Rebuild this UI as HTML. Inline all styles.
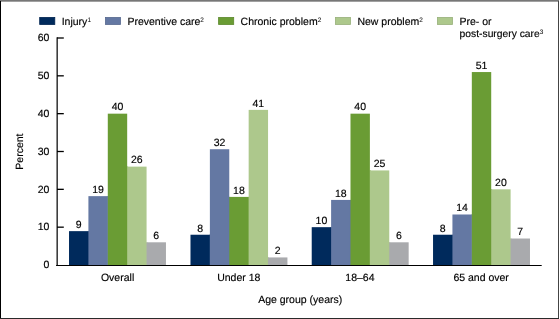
<!DOCTYPE html>
<html><head><meta charset="utf-8"><style>
html,body{margin:0;padding:0;background:#fff;}
body{width:560px;height:319px;overflow:hidden;position:relative;}
svg{position:absolute;left:0;top:0;will-change:transform;}
text{font-family:"Liberation Sans",sans-serif;font-size:10.5px;fill:#000;stroke:#000;stroke-width:0.15px;text-rendering:geometricPrecision;}
</style></head><body>
<svg width="560" height="319" viewBox="0 0 560 319">
<rect x="0" y="0" width="560" height="319" fill="#fff"/>
<rect x="69.02" y="231.14" width="19.39" height="33.86" fill="#002A5C"/>
<rect x="87.91" y="231.14" width="1.40" height="33.86" fill="#002A5C"/>
<text x="78.71" y="227.94" text-anchor="middle" >9</text>
<rect x="88.41" y="196.14" width="19.39" height="68.86" fill="#6478A3"/>
<rect x="107.29" y="196.14" width="1.40" height="68.86" fill="#6478A3"/>
<text x="98.10" y="192.94" text-anchor="middle" >19</text>
<rect x="107.79" y="113.67" width="19.39" height="151.33" fill="#6A9C34"/>
<rect x="126.68" y="166.63" width="1.40" height="98.37" fill="#6A9C34"/>
<text x="117.49" y="110.47" text-anchor="middle" >40</text>
<rect x="127.18" y="166.63" width="19.39" height="98.37" fill="#ADC88C"/>
<rect x="146.07" y="242.30" width="1.40" height="22.70" fill="#ADC88C"/>
<text x="136.88" y="163.43" text-anchor="middle" >26</text>
<rect x="146.57" y="242.30" width="19.39" height="22.70" fill="#A9AAAD"/>
<text x="156.26" y="239.10" text-anchor="middle" >6</text>
<text x="117.59" y="280.60" text-anchor="middle" >Overall</text>
<rect x="190.49" y="234.73" width="19.39" height="30.27" fill="#002A5C"/>
<rect x="209.38" y="234.73" width="1.40" height="30.27" fill="#002A5C"/>
<text x="200.19" y="231.53" text-anchor="middle" >8</text>
<rect x="209.88" y="149.23" width="19.39" height="115.77" fill="#6478A3"/>
<rect x="228.77" y="196.90" width="1.40" height="68.10" fill="#6478A3"/>
<text x="219.57" y="146.03" text-anchor="middle" >32</text>
<rect x="229.27" y="196.90" width="19.39" height="68.10" fill="#6A9C34"/>
<rect x="248.16" y="196.90" width="1.40" height="68.10" fill="#6A9C34"/>
<text x="238.96" y="193.70" text-anchor="middle" >18</text>
<rect x="248.66" y="109.88" width="19.39" height="155.12" fill="#ADC88C"/>
<rect x="267.54" y="257.43" width="1.40" height="7.57" fill="#ADC88C"/>
<text x="258.35" y="106.68" text-anchor="middle" >41</text>
<rect x="268.04" y="257.43" width="19.39" height="7.57" fill="#A9AAAD"/>
<text x="277.74" y="254.23" text-anchor="middle" >2</text>
<text x="238.76" y="280.60" text-anchor="middle" >Under 18</text>
<rect x="311.72" y="227.17" width="19.39" height="37.83" fill="#002A5C"/>
<rect x="330.61" y="227.17" width="1.40" height="37.83" fill="#002A5C"/>
<text x="321.41" y="223.97" text-anchor="middle" >10</text>
<rect x="331.11" y="199.93" width="19.39" height="65.07" fill="#6478A3"/>
<rect x="349.99" y="199.93" width="1.40" height="65.07" fill="#6478A3"/>
<text x="340.80" y="196.73" text-anchor="middle" >18</text>
<rect x="350.49" y="113.67" width="19.39" height="151.33" fill="#6A9C34"/>
<rect x="369.38" y="170.42" width="1.40" height="94.58" fill="#6A9C34"/>
<text x="360.19" y="110.47" text-anchor="middle" >40</text>
<rect x="369.88" y="170.42" width="19.39" height="94.58" fill="#ADC88C"/>
<rect x="388.77" y="242.30" width="1.40" height="22.70" fill="#ADC88C"/>
<text x="379.58" y="167.22" text-anchor="middle" >25</text>
<rect x="389.27" y="242.30" width="19.39" height="22.70" fill="#A9AAAD"/>
<text x="398.96" y="239.10" text-anchor="middle" >6</text>
<text x="359.94" y="280.60" text-anchor="middle" >18–64</text>
<rect x="433.04" y="234.73" width="19.39" height="30.27" fill="#002A5C"/>
<rect x="451.93" y="234.73" width="1.40" height="30.27" fill="#002A5C"/>
<text x="442.74" y="231.53" text-anchor="middle" >8</text>
<rect x="452.43" y="214.49" width="19.39" height="50.51" fill="#6478A3"/>
<rect x="471.32" y="214.49" width="1.40" height="50.51" fill="#6478A3"/>
<text x="462.12" y="211.29" text-anchor="middle" >14</text>
<rect x="471.82" y="72.05" width="19.39" height="192.95" fill="#6A9C34"/>
<rect x="490.71" y="189.33" width="1.40" height="75.67" fill="#6A9C34"/>
<text x="481.51" y="68.85" text-anchor="middle" >51</text>
<rect x="491.21" y="189.33" width="19.39" height="75.67" fill="#ADC88C"/>
<rect x="510.09" y="238.52" width="1.40" height="26.48" fill="#ADC88C"/>
<text x="500.90" y="186.13" text-anchor="middle" >20</text>
<rect x="510.59" y="238.52" width="19.39" height="26.48" fill="#A9AAAD"/>
<text x="520.29" y="235.32" text-anchor="middle" >7</text>
<text x="481.11" y="280.60" text-anchor="middle" >65 and over</text>
<rect x="56" y="37.3" width="1" height="228.7" fill="#8a8a8a"/>
<rect x="57" y="37.3" width="1" height="228.7" fill="#3e3e3e"/>
<line x1="56.1" y1="265.45" x2="541.7" y2="265.45" stroke="#000" stroke-width="1.1"/>
<text x="49.40" y="268.30" text-anchor="end" >0</text>
<line x1="57.0" y1="227.17" x2="63.8" y2="227.17" stroke="#000" stroke-width="1.3"/>
<text x="49.40" y="230.47" text-anchor="end" >10</text>
<line x1="57.0" y1="189.33" x2="63.8" y2="189.33" stroke="#000" stroke-width="1.3"/>
<text x="49.40" y="192.63" text-anchor="end" >20</text>
<line x1="57.0" y1="151.50" x2="63.8" y2="151.50" stroke="#000" stroke-width="1.3"/>
<text x="49.40" y="154.80" text-anchor="end" >30</text>
<line x1="57.0" y1="113.67" x2="63.8" y2="113.67" stroke="#000" stroke-width="1.3"/>
<text x="49.40" y="116.97" text-anchor="end" >40</text>
<line x1="57.0" y1="75.83" x2="63.8" y2="75.83" stroke="#000" stroke-width="1.3"/>
<text x="49.40" y="79.13" text-anchor="end" >50</text>
<line x1="57.0" y1="38.00" x2="63.8" y2="38.00" stroke="#000" stroke-width="1.3"/>
<text x="49.40" y="41.30" text-anchor="end" >60</text>
<text transform="translate(23.4,151.6) rotate(-90)" text-anchor="middle">Percent</text>
<text x="300.20" y="303.30" text-anchor="middle" >Age group (years)</text>
<rect x="39.70" y="17.4" width="15.1" height="7.1" fill="#002A5C" stroke="#002450" stroke-width="0.8"/>
<text x="61.70" y="25.00" text-anchor="start" >Injury<tspan font-size="6.5" stroke-width="0" dy="-2.7">1</tspan></text>
<rect x="105.40" y="17.4" width="15.1" height="7.1" fill="#6478A3" stroke="#58698f" stroke-width="0.8"/>
<text x="127.40" y="25.00" text-anchor="start" >Preventive care<tspan font-size="6.5" stroke-width="0" dy="-2.7">2</tspan></text>
<rect x="218.60" y="17.4" width="15.1" height="7.1" fill="#6A9C34" stroke="#5d892d" stroke-width="0.8"/>
<text x="240.60" y="25.00" text-anchor="start" >Chronic problem<tspan font-size="6.5" stroke-width="0" dy="-2.7">2</tspan></text>
<rect x="335.40" y="17.4" width="15.1" height="7.1" fill="#ADC88C" stroke="#98b07b" stroke-width="0.8"/>
<text x="357.40" y="25.00" text-anchor="start" >New problem<tspan font-size="6.5" stroke-width="0" dy="-2.7">2</tspan></text>
<rect x="437.40" y="17.4" width="15.1" height="7.1" fill="#ADC88C" stroke="#98b07b" stroke-width="0.8"/>
<text x="459.40" y="25.00" text-anchor="start" >Pre- or</text>
<text x="459.60" y="37.40" text-anchor="start" ><tspan font-size="10.3">post-surgery care</tspan><tspan font-size="6.5" stroke-width="0" dy="-3.8">3</tspan></text>
<g shape-rendering="crispEdges">
<rect x="0" y="1" width="559" height="1" fill="#a0a0a0"/>
<rect x="0" y="1" width="1" height="318" fill="#000"/>
<rect x="558" y="1" width="1" height="318" fill="#444"/>
<rect x="0" y="318" width="559" height="1" fill="#2a2a2a"/>
<rect x="0" y="0" width="559" height="1" fill="#777"/>
</g>
</svg>
</body></html>
